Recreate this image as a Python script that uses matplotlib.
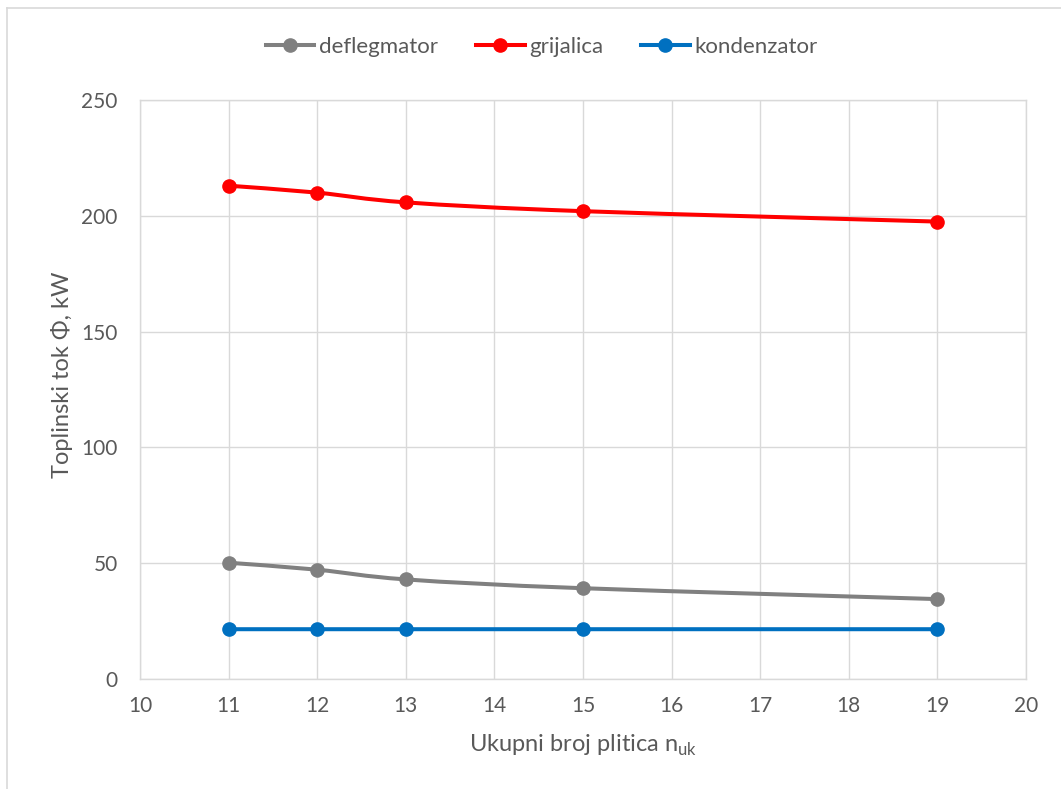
import numpy as np
import matplotlib
matplotlib.use("Agg")
import matplotlib.pyplot as plt
from matplotlib.path import Path
from matplotlib.patches import PathPatch
from matplotlib.lines import Line2D

plt.rcParams['font.family'] = ['Lato', 'DejaVu Sans']

x_vals = [11, 12, 13, 15, 19]
deflegmator = [50.2, 47.2, 43.0, 39.2, 34.5]
grijalica = [213.0, 210.0, 205.8, 202.0, 197.5]
kondenzator = [21.5, 21.5, 21.5, 21.5, 21.5]
series_names = ["deflegmator", "grijalica", "kondenzator"]
colors = ["#808080", "#FF0000", "#0070C0"]
xticks = list(range(10, 21))
yticks = [0, 50, 100, 150, 200, 250]

fig = plt.figure(figsize=(10.61, 7.89), dpi=100)
ax = fig.add_axes([140/1061, 1-679/789, (1026-140)/1061, (679-100)/789])

def smooth_path(xs, ys):
    xs = np.asarray(xs, float); ys = np.asarray(ys, float)
    n = len(xs)
    verts = [(xs[0], ys[0])]
    codes = [Path.MOVETO]
    for i in range(n - 1):
        p0 = (xs[max(i-1, 0)], ys[max(i-1, 0)])
        p1 = (xs[i], ys[i])
        p2 = (xs[i+1], ys[i+1])
        p3 = (xs[min(i+2, n-1)], ys[min(i+2, n-1)])
        c1 = (p1[0] + (p2[0]-p0[0])/6, p1[1] + (p2[1]-p0[1])/6)
        c2 = (p2[0] - (p3[0]-p1[0])/6, p2[1] - (p3[1]-p1[1])/6)
        verts += [c1, c2, p2]
        codes += [Path.CURVE4]*3
    return Path(verts, codes)

for name, ys, c in zip(series_names, [deflegmator, grijalica, kondenzator], colors):
    patch = PathPatch(smooth_path(x_vals, ys), facecolor='none', edgecolor=c,
                      lw=2.9, capstyle='round', joinstyle='round', zorder=3)
    ax.add_patch(patch)
    ax.plot(x_vals, ys, linestyle='none', marker='o', ms=9.5, color=c, zorder=4)

ax.set_xlim(10, 20)
ax.set_ylim(0, 250)
ax.set_xticks(xticks)
ax.set_yticks(yticks)
ax.grid(True, color='#d9d9d9', lw=1.0)
ax.set_axisbelow(True)
for s in ax.spines.values():
    s.set_color('#d9d9d9')
    s.set_linewidth(1.0)
ax.tick_params(length=0, labelsize=15, colors='#595959')
ax.tick_params(axis='x', pad=12)
ax.tick_params(axis='y', pad=16)
ax.set_xlabel("Ukupni broj plitica n$_{\\mathregular{uk}}$", fontsize=17, color='#595959', labelpad=12)
ax.set_ylabel("Toplinski tok Φ, kW", fontsize=17, color='#595959')
ax.yaxis.set_label_coords(-0.09 + 13/886, 0.525)

handles = [Line2D([0], [0], color=c, lw=2.9, marker='o', ms=9.5) for c in colors]
fig.legend(handles, series_names, loc='center', bbox_to_anchor=(0.5 + 11/1061, 1-47/789), ncol=3,
           frameon=False, fontsize=16, labelcolor='#595959', handlelength=2.2,
           handletextpad=0.2, columnspacing=1.7)

fig.add_artist(Line2D([7/1061, 7/1061], [0, 1-8/789], color='#d9d9d9', lw=1.2, transform=fig.transFigure))
fig.add_artist(Line2D([7/1061, 1], [1-8/789, 1-8/789], color='#d9d9d9', lw=1.2, transform=fig.transFigure))

fig.savefig("out.png", dpi=100)
